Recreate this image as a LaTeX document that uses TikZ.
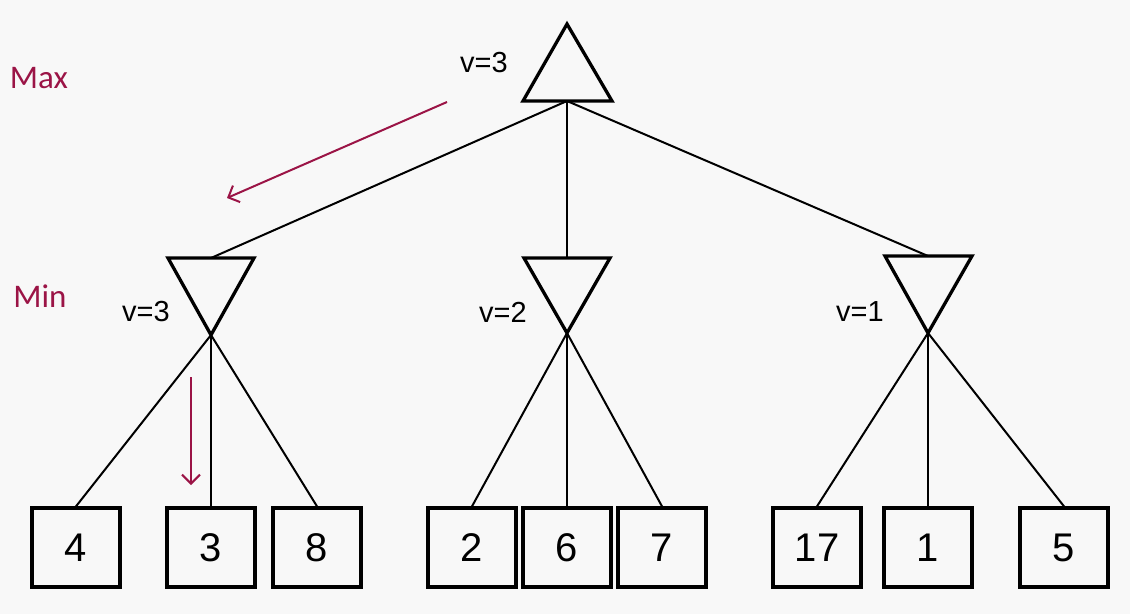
\documentclass[tikz,border=0pt]{standalone}
\usepackage{fontspec}
\setmainfont{Liberation Sans}
\newfontfamily\calib{Carlito}
\definecolor{bgc}{RGB}{248,248,248}
\definecolor{crim}{RGB}{155,20,70}
\usetikzlibrary{arrows.meta}
\begin{document}
\begin{tikzpicture}[x=1pt,y=-1pt,
  tri/.style={draw=black,line width=3.3pt,line join=miter},
  edge/.style={draw=black,line width=2pt},
  leaf/.style={draw=black,line width=3.3pt,minimum width=88pt,minimum height=79pt,inner sep=0pt,font=\fontsize{40}{40}\selectfont},
  vlab/.style={font=\fontsize{29}{29}\selectfont,inner sep=0pt},
  side/.style={text=crim,font=\calib\fontsize{33}{33}\selectfont,inner sep=0pt},
  hint/.style={draw=crim,line width=2pt,-{Straight Barb[length=9pt,width=18pt,line width=2pt]}}]
\fill[bgc] (0,0) rectangle (1130,614);
\useasboundingbox (0,0) rectangle (1130,614);
% root (max)
\coordinate (rtop) at (567,24);
\coordinate (rl) at (523,101);
\coordinate (rr) at (612,101);
\coordinate (root) at (567,101);
\draw[tri] (rtop) -- (rr) -- (rl) -- cycle;
% min nodes
\coordinate (aL) at (168,258); \coordinate (aR) at (254,258); \coordinate (a) at (211,258); \coordinate (aB) at (211,335);
\coordinate (bL) at (524,258); \coordinate (bR) at (610,258); \coordinate (b) at (567,258); \coordinate (bB) at (567,333);
\coordinate (cL) at (885,256); \coordinate (cR) at (972,256); \coordinate (c) at (928,256); \coordinate (cB) at (928,333);
\draw[tri] (aL) -- (aR) -- (aB) -- cycle;
\draw[tri] (bL) -- (bR) -- (bB) -- cycle;
\draw[tri] (cL) -- (cR) -- (cB) -- cycle;
\draw[edge] (root) -- (a);
\draw[edge] (root) -- (b);
\draw[edge] (root) -- (c);
% leaves
\node[leaf] (l1) at (76,547.5) {4};
\node[leaf] (l2) at (211,547.5) {3};
\node[leaf] (l3) at (317,547.5) {8};
\node[leaf] (l4) at (472,547.5) {2};
\node[leaf] (l5) at (567,547.5) {6};
\node[leaf] (l6) at (662,547.5) {7};
\node[leaf] (l7) at (817,547.5) {17};
\node[leaf] (l8) at (928,547.5) {1};
\node[leaf] (l9) at (1064,547.5) {5};
\foreach \l in {l1,l2,l3} \draw[edge] (aB) -- (\l.north);
\foreach \l in {l4,l5,l6} \draw[edge] (bB) -- (\l.north);
\foreach \l in {l7,l8,l9} \draw[edge] (cB) -- (\l.north);
% labels
\node[vlab] (v0) at (484,63) {v=3};
\node[vlab] (v1) at (146,312) {v=3};
\node[vlab] (v2) at (503,312) {v=2};
\node[vlab] (v3) at (860,312) {v=1};
\node[side] (mx) at (39,78) {Max};
\node[side] (mn) at (40,296) {Min};
% hint arrows
\coordinate (h1s) at (447,102); \coordinate (h1e) at (227,198);
\coordinate (h2s) at (191,377); \coordinate (h2e) at (191,485);
\draw[hint] (h1s) -- (h1e);
\draw[hint] (h2s) -- (h2e);
\end{tikzpicture}
\end{document}
